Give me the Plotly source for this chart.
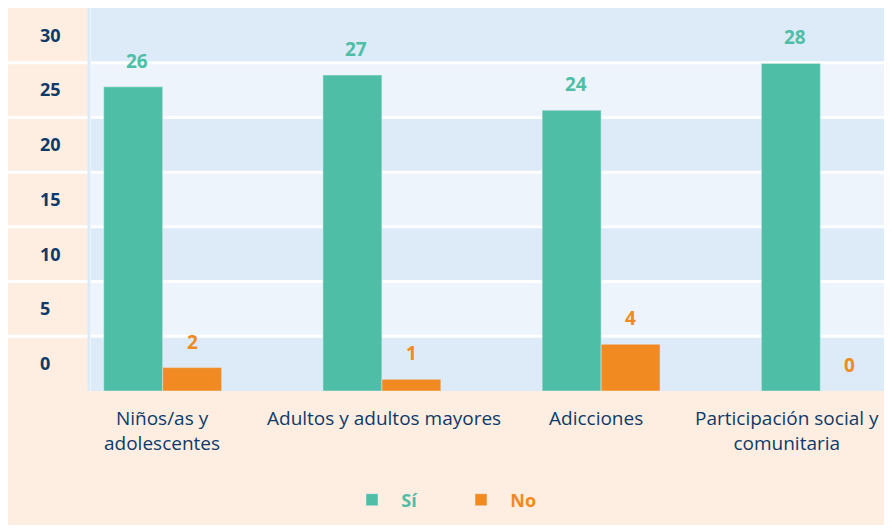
import plotly.graph_objects as go

# ---- data ----
categories = ["Niños/as y<br>adolescentes", "Adultos y adultos mayores",
              "Adicciones", "Participación social y<br>comunitaria"]
si_values = [26, 27, 24, 28]
no_values = [2, 1, 4, 0]
series_names = ["Sí", "No"]
y_tick_values = [0, 5, 10, 15, 20, 25, 30]
y_tick_labels = ["0", "5", "10", "15", "20", "25", "30"]

# ---- style ----
TEAL = "#4EBFA6"
ORANGE = "#F18A21"
NAVY = "#0E3A6B"
PEACH = "#FDEEE1"
BAND_DARK = "#DDEAF7"
BAND_LIGHT = "#EEF4FC"
FONT = "Open Sans"

# page body adds an 8px offset; figure fills the remaining window
OFF = 8
W, H = 892 - OFF, 528 - OFF
BASE = 391            # screen y of the bar baseline
T, B = 0, 528 - BASE
PLOT_H = H - T - B


def px_x(sx):
    return (sx - OFF) / W


def px_y(sy):
    return (BASE - sy) / PLOT_H


NBSP = "\u00a0"
fig = go.Figure()
fig.add_trace(go.Bar(x=categories, y=si_values,
                     name=f"{NBSP*2}<span style='color:{TEAL}'><b>{series_names[0]}</b></span>",
                     marker_color=TEAL, hoverinfo="skip"))
fig.add_trace(go.Bar(x=categories, y=no_values,
                     name=f"{NBSP*2}<span style='color:{ORANGE}'><b>{series_names[1]}</b></span>",
                     marker_color=ORANGE, hoverinfo="skip"))
# invisible trace to carry the band (label) axis
fig.add_trace(go.Scatter(x=[categories[0]], y=[0], yaxis="y2", mode="markers",
                         marker=dict(opacity=0), showlegend=False, hoverinfo="skip"))

shapes = []
shapes.append(dict(type="rect", xref="paper", yref="paper", x0=px_x(8), x1=px_x(88),
                   y0=px_y(391), y1=px_y(8), fillcolor=PEACH, line_width=0, layer="below"))
shapes.append(dict(type="rect", xref="paper", yref="paper", x0=px_x(8), x1=1,
                   y0=px_y(525), y1=px_y(391), fillcolor=PEACH, line_width=0, layer="below"))
for i, v in enumerate(y_tick_values):
    shapes.append(dict(type="rect", xref="paper", yref="y2", x0=px_x(91), x1=1,
                       y0=v - 2.5, y1=v + 2.5,
                       fillcolor=BAND_DARK if i % 2 == 0 else BAND_LIGHT,
                       line_width=0, layer="below"))
for v in y_tick_values[:-1]:
    shapes.append(dict(type="line", xref="paper", yref="y2", x0=px_x(8), x1=1,
                       y0=v + 2.5, y1=v + 2.5, line=dict(color="white", width=3),
                       layer="below"))
shapes.append(dict(type="line", xref="paper", yref="paper", x0=px_x(89), x1=px_x(89),
                   y0=px_y(391), y1=px_y(8), line=dict(color=BAND_DARK, width=3),
                   layer="below"))

annotations = []
for vals, col, shift in [(si_values, TEAL, -25.5), (no_values, ORANGE, 29.5)]:
    for c, v in zip(categories, vals):
        annotations.append(dict(x=c, y=v, xref="x", yref="y", text=f"<b>{v}</b>",
                                showarrow=False, yanchor="bottom", yshift=11, xshift=shift,
                                font=dict(family=FONT, size=19, color=col)))
label_shifts = [-1, 2, -5, -33]
for c, s in zip(categories, label_shifts):
    annotations.append(dict(x=c, y=0, xref="x", yref="paper", text=c, showarrow=False,
                            yanchor="top", yshift=-12, xshift=s, align="center",
                            font=dict(family=FONT, size=19, color=NAVY)))

fig.update_layout(
    width=W, height=H,
    margin=dict(l=0, r=0, t=T, b=B),
    paper_bgcolor="white", plot_bgcolor="rgba(0,0,0,0)",
    barmode="group", bargap=0.462, bargroupgap=0,
    font=dict(family=FONT, size=18, color=NAVY),
    xaxis=dict(domain=[px_x(91), 1], range=[-0.327, 3.327], showticklabels=False,
               showgrid=False, zeroline=False, showline=False, fixedrange=True),
    yaxis=dict(range=[0, PLOT_H / 11.7], showticklabels=False, showgrid=False,
               zeroline=False, showline=False, fixedrange=True),
    yaxis2=dict(overlaying="y", side="right", anchor="free", position=px_x(39),
                range=[-2.5, 32.5], tickvals=y_tick_values, ticktext=y_tick_labels,
                showgrid=False, zeroline=False, showline=False, ticks="",
                tickfont=dict(family=FONT, size=18, color=NAVY, weight="bold"),
                fixedrange=True),
    legend=dict(orientation="h", x=px_x(352), xanchor="left", y=px_y(500),
                yanchor="middle", font=dict(family=FONT, size=18),
                entrywidth=64, entrywidthmode="pixels", bgcolor="rgba(0,0,0,0)"),
    shapes=shapes, annotations=annotations,
)

fig.write_html("out.html")
